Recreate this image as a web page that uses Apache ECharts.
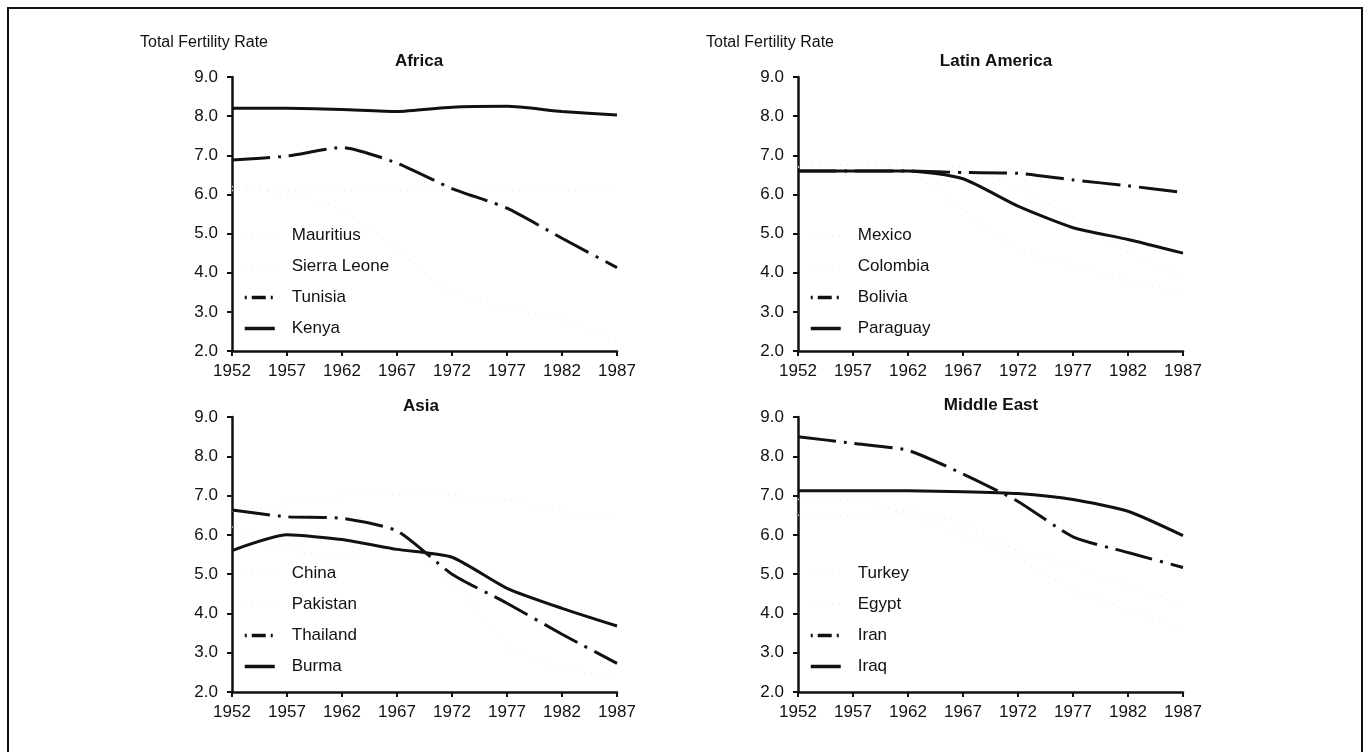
<!DOCTYPE html>
<html>
<head>
<meta charset="utf-8">
<script src="https://cdn.jsdelivr.net/npm/echarts@6/dist/echarts.min.js"></script>
<style>
  html, body { margin: 0; padding: 0; background: #fff; }
  #chart { width: 1371px; height: 752px; }
</style>
</head>
<body>
<div id="chart"></div>
<script>
const years = ['1952', '1957', '1962', '1967', '1972', '1977', '1982', '1987'];
const yTicks = [2, 9];

// Africa
const mauritius = [6.2, 6.0, 5.6, 4.6, 3.5, 3.1, 2.8, 2.3];
const sierraLeone = [6.1, 6.1, 6.1, 6.1, 6.1, 6.1, 6.1, 6.1];
const tunisia = [6.88, 6.98, 7.2, 6.8, 6.15, 5.65, 4.88, 4.13];
const kenya = [8.2, 8.2, 8.17, 8.12, 8.23, 8.25, 8.12, 8.03];

// Latin America
const mexico = [6.7, 6.75, 6.75, 6.7, 6.2, 5.4, 4.5, 3.9];
const colombia = [6.7, 6.75, 6.6, 5.6, 4.6, 4.2, 3.8, 3.5];
const bolivia = [6.6, 6.6, 6.6, 6.56, 6.54, 6.37, 6.22, 6.05];
const paraguay = [6.6, 6.6, 6.6, 6.4, 5.7, 5.15, 4.85, 4.5];

// Asia
const china = [6.2, 5.6, 5.5, 6.0, 4.8, 3.2, 2.6, 2.4];
const pakistan = [6.6, 6.8, 7.0, 7.0, 7.0, 6.9, 6.6, 6.5];
const thailand = [6.63, 6.46, 6.42, 6.1, 5.0, 4.26, 3.47, 2.73];
const burma = [5.6, 6.0, 5.88, 5.63, 5.43, 4.64, 4.13, 3.68];

// Middle East
const turkey = [6.9, 6.9, 6.5, 6.0, 5.4, 4.6, 4.1, 3.6];
const egypt = [6.5, 6.5, 6.6, 6.3, 5.6, 5.2, 4.7, 4.25];
const iran = [8.5, 8.33, 8.15, 7.55, 6.85, 5.95, 5.55, 5.17];
const iraq = [7.12, 7.12, 7.12, 7.1, 7.05, 6.9, 6.6, 5.98];

const FONT = '"Liberation Sans", Arial, sans-serif';
const DASHDOT = [38, 8, 3, 8];
const DASHDOT_ICON = [2, 5, 14, 5];

const panels = [
  { title: 'Africa', tx: 419, ty: 61, left: 232, top: 77, height: 274, legendTop: 222,
    faint: [['Mauritius', mauritius], ['Sierra Leone', sierraLeone]],
    dashed: ['Tunisia', tunisia], solid: ['Kenya', kenya] },
  { title: 'Latin America', tx: 996, ty: 61, left: 798, top: 77, height: 274, legendTop: 222,
    faint: [['Mexico', mexico], ['Colombia', colombia]],
    dashed: ['Bolivia', bolivia], solid: ['Paraguay', paraguay] },
  { title: 'Asia', tx: 421, ty: 406, left: 232, top: 417, height: 275, legendTop: 560,
    faint: [['China', china], ['Pakistan', pakistan]],
    dashed: ['Thailand', thailand], solid: ['Burma', burma] },
  { title: 'Middle East', tx: 991, ty: 405, left: 798, top: 417, height: 275, legendTop: 560,
    faint: [['Turkey', turkey], ['Egypt', egypt]],
    dashed: ['Iran', iran], solid: ['Iraq', iraq] }
];

const grids = [], xAxes = [], yAxes = [], series = [], legends = [], graphics = [];

graphics.push({
  type: 'rect', shape: { x: 8, y: 8, width: 1354, height: 760 },
  style: { fill: 'none', stroke: '#111', lineWidth: 2 }, silent: true
});
graphics.push({
  type: 'text', x: 204, y: 43,
  style: { text: 'Total Fertility Rate', font: '16px ' + FONT, fill: '#111', textAlign: 'center', textVerticalAlign: 'middle' }
});
graphics.push({
  type: 'text', x: 770, y: 43,
  style: { text: 'Total Fertility Rate', font: '16px ' + FONT, fill: '#111', textAlign: 'center', textVerticalAlign: 'middle' }
});

panels.forEach((p, i) => {
  grids.push({ left: p.left, top: p.top, width: 385, height: p.height });
  xAxes.push({
    type: 'category', gridIndex: i, data: years, boundaryGap: false,
    axisLine: { lineStyle: { color: '#111', width: 2.5 } },
    axisTick: { show: true, length: 5, lineStyle: { color: '#111', width: 2 } },
    axisLabel: { color: '#111', fontSize: 17, fontFamily: FONT, margin: 12 },
    splitLine: { show: false }
  });
  yAxes.push({
    type: 'value', gridIndex: i, min: yTicks[0], max: yTicks[1], interval: 1,
    axisLine: { show: true, lineStyle: { color: '#111', width: 2.5 } },
    axisTick: { show: true, length: 5, lineStyle: { color: '#111', width: 2 } },
    axisLabel: { color: '#111', fontSize: 17, fontFamily: FONT, margin: 14, formatter: v => v.toFixed(1) },
    splitLine: { show: false }
  });
  graphics.push({
    type: 'text', x: p.tx, y: p.ty,
    style: { text: p.title, font: 'bold 17px ' + FONT, fill: '#111', textAlign: 'center', textVerticalAlign: 'middle' }
  });

  const names = [];
  p.faint.forEach(([name, vals]) => {
    names.push({ name: name });
    series.push({
      name: name, type: 'line', xAxisIndex: i, yAxisIndex: i, data: vals,
      symbol: 'none', smooth: 0.2, z: 1,
      lineStyle: { color: '#ededed', width: 1.5, type: [1, 6] },
      itemStyle: { color: '#ededed' }
    });
  });
  series.push({
    name: p.dashed[0], type: 'line', xAxisIndex: i, yAxisIndex: i, data: p.dashed[1],
    symbol: 'none', smooth: 0.2, z: 3,
    lineStyle: { color: '#111', width: 3, type: DASHDOT },
    itemStyle: { color: '#111' }
  });
  names.push({ name: p.dashed[0], lineStyle: { type: DASHDOT_ICON, width: 3.5 } });
  series.push({
    name: p.solid[0], type: 'line', xAxisIndex: i, yAxisIndex: i, data: p.solid[1],
    symbol: 'none', smooth: 0.2, z: 3,
    lineStyle: { color: '#111', width: 3 },
    itemStyle: { color: '#111' }
  });
  names.push({ name: p.solid[0], lineStyle: { width: 3.5 } });

  legends.push({
    data: names, orient: 'vertical', left: p.left + 6, top: p.legendTop,
    itemWidth: 30, itemHeight: 14, itemGap: 14, selectedMode: false,
    itemStyle: { opacity: 0 },
    textStyle: { color: '#111', fontSize: 17, fontFamily: FONT, padding: [0, 0, 0, 12] }
  });
});

const chart = echarts.init(document.getElementById('chart'), null, { renderer: 'canvas' });
chart.setOption({
  animation: false,
  backgroundColor: '#fff',
  grid: grids,
  xAxis: xAxes,
  yAxis: yAxes,
  legend: legends,
  series: series,
  graphic: graphics
});
</script>
</body>
</html>
